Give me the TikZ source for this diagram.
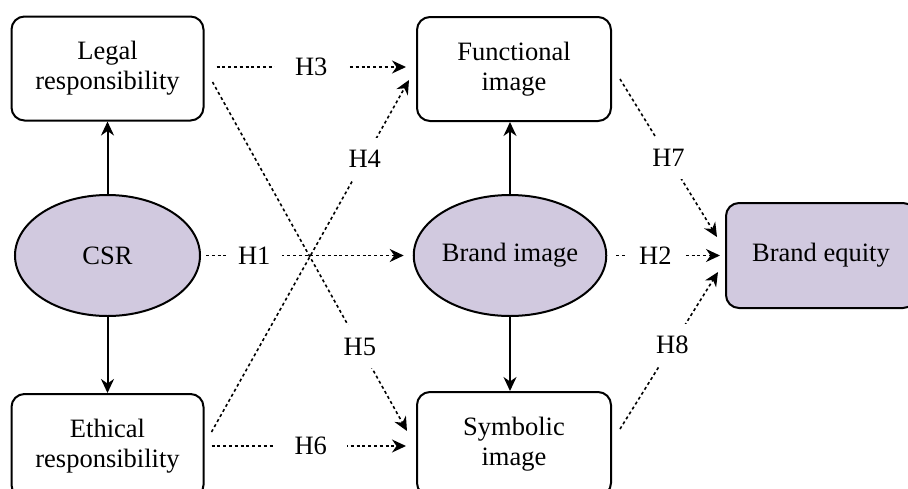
\documentclass[tikz,border=0pt]{standalone}
\usepackage{fontspec}
\setmainfont{Liberation Serif}
\usetikzlibrary{arrows.meta,calc,shapes.geometric}
\definecolor{lav}{HTML}{D1C9DF}
\begin{document}
\begin{tikzpicture}[x=1pt,y=-1pt,
  font=\fontsize{26.5}{30}\selectfont,
  box/.style={draw, line width=2pt, rounded corners=13pt, minimum width=192pt, minimum height=104pt, align=center, inner sep=0pt},
  oval/.style={draw, ellipse, line width=2pt, fill=lav, minimum width=185pt, minimum height=121pt, inner sep=0pt},
  tipstyle/.style={-{Stealth[length=14pt,width=13pt,inset=4.5pt]}},
  solidarr/.style={line width=2pt, tipstyle},
  hyparr/.style={line width=1.6pt, dash pattern=on 3pt off 2.8pt, tipstyle},
  labh/.style={fill=white, inner ysep=2pt, inner xsep=#1},
  labd/.style={fill=white, inner xsep=1pt, inner ysep=12.5pt},
]
\useasboundingbox (0,0) rectangle (908,488);
\clip (0,0) rectangle (908,488);

% nodes
\node[box] (legal) at (107.5,68.5) {Legal\\responsibility};
\node[box, minimum width=194pt] (func) at (514,69) {Functional\\image};
\node[box] (eth) at (107.5,446) {Ethical\\responsibility};
\node[box, minimum width=194pt] (sym) at (514,444) {Symbolic\\image};
\node[oval] (csr) at (107.5,255.5) {CSR};
\node[oval] (bi) at (510,255.5) {Brand image};
\node[box, fill=lav, minimum width=190pt, minimum height=105pt] (be) at (821,255.5) {Brand equity};

% solid connectors
\draw[solidarr] (csr.north) -- (legal.south);
\draw[solidarr] (csr.south) -- (eth.north);
\draw[solidarr] (bi.north) -- (bi.north |- func.south);
\draw[solidarr] (bi.south) -- (bi.south |- sym.north);

% hypotheses
\draw[hyparr] ($(csr.east)+(5,0)$) -- node[labh=12pt, pos=0.244] (h1) {H1} ($(bi.west)+(-9,0)$);
\draw[hyparr] ($(bi.east)+(9,0)$) -- node[labh=12pt, pos=0.377] (h2) {H2} ($(be.west)+(-5,0)$);
\draw[hyparr] ($(legal.east)+(12,-1.5)$) -- node[labh=20pt, pos=0.5] (h3) {H3} ($(func.west)+(-10,-2)$);
\draw[hyparr] ($(eth.east)+(7,0)$) -- node[labh=20pt, pos=0.51] (h6) {H6} ($(sym.west)+(-10,2)$);
\draw[hyparr] ($(eth.east)+(7,-14)$) -- node[labd, pos=0.776] (h4) {H4} ($(func.west)+(-7,11)$);
\draw[hyparr] ($(legal.east)+(8,13.5)$) -- node[labd, pos=0.758] (h5) {H5} ($(sym.west)+(-9,-13)$);
\draw[hyparr] ($(func.east)+(8,10)$) -- node[labd, pos=0.5] (h7) {H7} ($(be.west)+(-8,-18.5)$);
\draw[hyparr] ($(sym.east)+(8,-15)$) -- node[labd, pos=0.535] (h8) {H8} ($(be.west)+(-7,16.5)$);
\end{tikzpicture}
\end{document}
